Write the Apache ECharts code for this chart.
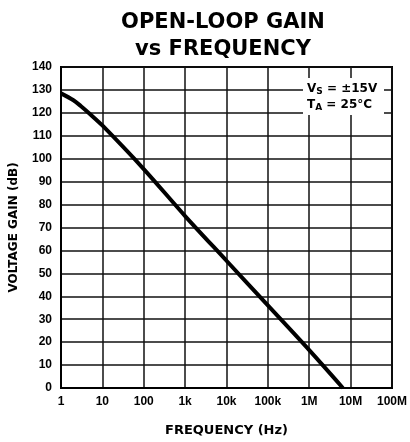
<!DOCTYPE html>
<html>
<head>
<meta charset="utf-8">
<script src="https://cdn.jsdelivr.net/npm/echarts@6/dist/echarts.min.js"></script>
<style>html,body{margin:0;padding:0;background:#fff}#c{width:410px;height:442px}</style>
</head>
<body>
<div id="c"></div>
<script>
const titleText = 'OPEN-LOOP GAIN\nvs FREQUENCY';
const xAxisName = 'FREQUENCY (Hz)';
const yAxisName = 'VOLTAGE GAIN (dB)';
const xTickValues = [1, 10, 100, 1000, 10000, 100000, 1000000, 10000000, 100000000];
const xTickLabels = ['1', '10', '100', '1k', '10k', '100k', '1M', '10M', '100M'];
const frequency = [1, 2, 3, 5, 10, 100, 1000, 10000, 100000, 1000000, 6500000];
const gain = [128.5, 125.5, 123, 119.5, 114.5, 95.5, 75, 55.5, 36, 16.5, 0];
const noteLines = [['V', 'S', ' = \u00b115V'], ['T', 'A', ' = 25\u00b0C']];

const chart = echarts.init(document.getElementById('c'), null, {renderer: 'canvas'});
const lblFont = 'Liberation Sans, Arial, Helvetica, sans-serif';
const hdFont = 'DejaVu Sans, Liberation Sans, sans-serif';
const noteText = noteLines.map(l => '{n|' + l[0] + '}{s|' + l[1] + '}{n|' + l[2] + '}').join('\n');

chart.setOption({
  animation: false,
  backgroundColor: '#fff',
  title: {
    text: titleText,
    left: 218, top: 4, textAlign: 'center',
    textStyle: {fontFamily: hdFont, fontWeight: 'bold', fontSize: 21, lineHeight: 27, color: '#000'}
  },
  grid: {left: 60, right: 18, top: 67, bottom: 46, show: true, borderColor: '#000', borderWidth: 2, containLabel: false},
  xAxis: {
    type: 'log', logBase: 10, min: 1, max: 100000000, splitNumber: 8,
    name: xAxisName, nameLocation: 'middle', nameGap: 36,
    nameTextStyle: {fontFamily: hdFont, fontWeight: 'bold', fontSize: 13, color: '#000'},
    axisLine: {show: true, lineStyle: {color: '#000', width: 2}},
    axisTick: {show: false},
    minorTick: {show: false},
    axisLabel: {
      fontFamily: lblFont, fontWeight: 'bold', fontSize: 12, color: '#000', margin: 8,
      formatter: v => { const i = xTickValues.findIndex(t => Math.abs(Math.log10(t) - Math.log10(v)) < 1e-6); return i >= 0 ? xTickLabels[i] : ''; }
    },
    splitLine: {show: true, lineStyle: {color: '#111', width: 1.5}}
  },
  yAxis: {
    type: 'value', min: 0, max: 140, interval: 10,
    name: yAxisName, nameLocation: 'middle', nameGap: 41, nameRotate: 90,
    nameTextStyle: {fontFamily: hdFont, fontWeight: 'bold', fontSize: 12, color: '#000'},
    axisLine: {show: true, lineStyle: {color: '#000', width: 2}},
    axisTick: {show: false},
    axisLabel: {fontFamily: lblFont, fontWeight: 'bold', fontSize: 12, color: '#000', margin: 9},
    splitLine: {show: true, lineStyle: {color: '#111', width: 1.5}}
  },
  graphic: [{
    type: 'rect', shape: {x: 303, y: 78, width: 81, height: 37}, style: {fill: '#fff'}, z: 10
  }, {
    type: 'text', x: 307, y: 81, z: 11,
    style: {
      text: noteText,
      rich: {
        n: {fontFamily: hdFont, fontWeight: 'bold', fontSize: 12, lineHeight: 16, fill: '#000'},
        s: {fontFamily: hdFont, fontWeight: 'bold', fontSize: 9, lineHeight: 16, padding: [6, 0, 0, 0], fill: '#000'}
      }
    }
  }],
  series: [{
    type: 'line', smooth: 0.3, showSymbol: false, clip: true,
    data: frequency.map((f, i) => [f, gain[i]]),
    lineStyle: {color: '#000', width: 4}
  }]
});
</script>
</body>
</html>
